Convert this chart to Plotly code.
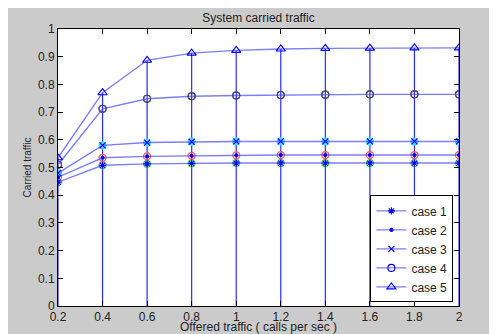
import plotly.graph_objects as go

offered = [0.2, 0.4, 0.6, 0.8, 1.0, 1.2, 1.4, 1.6, 1.8, 2.0]
case1 = [0.447, 0.508, 0.513, 0.515, 0.516, 0.516, 0.516, 0.516, 0.516, 0.516]
case2 = [0.465, 0.535, 0.540, 0.542, 0.544, 0.545, 0.545, 0.545, 0.545, 0.545]
case3 = [0.480, 0.580, 0.590, 0.593, 0.594, 0.594, 0.594, 0.594, 0.594, 0.594]
case4 = [0.510, 0.712, 0.748, 0.757, 0.760, 0.762, 0.763, 0.764, 0.764, 0.764]
case5 = [0.535, 0.770, 0.887, 0.913, 0.923, 0.928, 0.930, 0.931, 0.932, 0.932]
names = ["case 1", "case 2", "case 3", "case 4", "case 5"]
x_ticks = [0.2, 0.4, 0.6, 0.8, 1.0, 1.2, 1.4, 1.6, 1.8, 2.0]
x_tick_text = ["0.2", "0.4", "0.6", "0.8", "1", "1.2", "1.4", "1.6", "1.8", "2"]
y_ticks = [0, 0.1, 0.2, 0.3, 0.4, 0.5, 0.6, 0.7, 0.8, 0.9, 1.0]
y_tick_text = ["0", "0.1", "0.2", "0.3", "0.4", "0.5", "0.6", "0.7", "0.8", "0.9", "1"]

series = [case1, case2, case3, case4, case5]
blue_symbols = ["asterisk-open", "circle", "x-thin-open", "circle-open", "triangle-up-open"]
blue_sizes = [6, 3, 6, 7, 8]
over_colors = ["#33dd33", "#ff5555", "#44ddff", "#444444", "#0000ff"]
over_symbols = ["circle-open", "circle-open", "circle", "circle-open", "triangle-up-open"]

fig = go.Figure()

# vertical lines from 0 up to the highest value at each x
vx, vy = [], []
for i, xv in enumerate(offered):
    top = max(s[i] for s in series)
    vx += [xv, xv, None]
    vy += [0, top, None]
fig.add_trace(go.Scatter(x=vx, y=vy, mode="lines", line=dict(color="#2a2aff", width=1.2),
                         showlegend=False, hoverinfo="skip"))

# colored overlays (below blue markers) for cases 1-3
for k in range(3):
    fig.add_trace(go.Scatter(x=offered, y=series[k], mode="markers", showlegend=False,
                             marker=dict(symbol=over_symbols[k], size=7, color=over_colors[k],
                                         line=dict(width=1.3, color=over_colors[k])),
                             hoverinfo="skip"))

for k in range(5):
    fig.add_trace(go.Scatter(x=offered, y=series[k], name=names[k], mode="lines+markers",
                             line=dict(color="rgba(70,70,255,0.7)", width=1.4),
                             marker=dict(symbol=blue_symbols[k], size=blue_sizes[k], color="#0000ff",
                                         line=dict(width=1.1, color="#0000ff"))))

# dark circle overlay for case 4
fig.add_trace(go.Scatter(x=offered, y=case4, mode="markers", showlegend=False,
                         marker=dict(symbol="circle-open", size=7, color="#555555",
                                     line=dict(width=1.1, color="#555555")),
                         hoverinfo="skip"))

font = "Liberation Sans, Arial, sans-serif"
W, H = 489, 326
fig.update_layout(
    width=W, height=H,
    margin=dict(l=50, r=38, t=21, b=28),
    paper_bgcolor="#cbcbcb",
    plot_bgcolor="white",
    font=dict(family=font, size=12, color="#222222"),
    title=dict(text="System carried traffic", x=(50 + 401 / 2) / W, xanchor="center",
               y=1 - 10 / H, yanchor="middle", font=dict(size=12, color="#222222")),
    showlegend=True,
    legend=dict(x=0.986, y=0.013, xanchor="right", yanchor="bottom", bgcolor="white",
                bordercolor="black", borderwidth=1, font=dict(size=12, color="#222222"),
                tracegroupgap=0),
)
fig.update_xaxes(range=[0.2, 2.0], tickvals=x_ticks, ticktext=x_tick_text, ticks="inside",
                 ticklen=5, tickcolor="black", showline=True, linecolor="black", linewidth=1,
                 mirror="ticks", showgrid=False, zeroline=False, automargin=False,
                 title=dict(text="Offered traffic ( calls per sec )", standoff=2,
                            font=dict(size=12)))
fig.update_yaxes(range=[0, 1.0], tickvals=y_ticks, ticktext=y_tick_text, ticks="inside",
                 ticklen=5, tickcolor="black", showline=True, linecolor="black", linewidth=1,
                 mirror="ticks", showgrid=False, zeroline=False, automargin=False,
                 title=dict(text="Carried traffic", standoff=4, font=dict(size=10)))

fig.write_html("out.html")
